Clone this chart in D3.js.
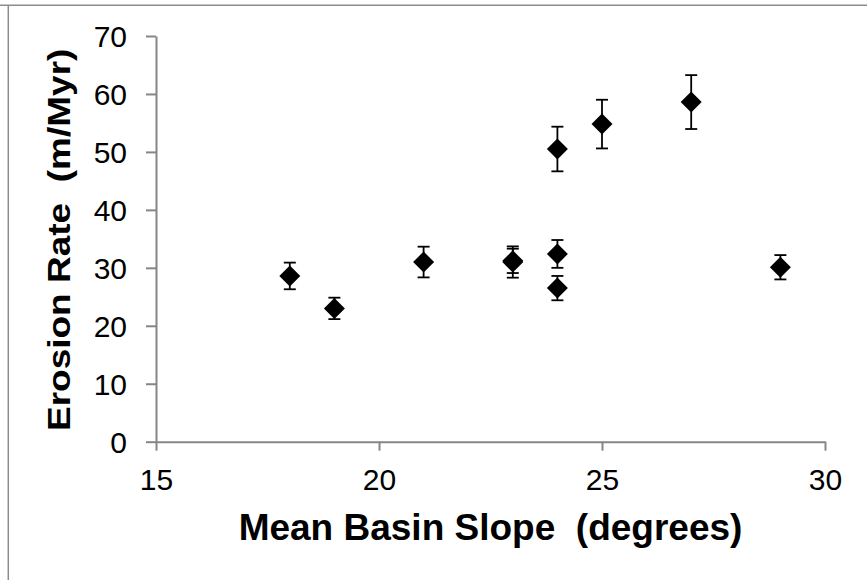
<!DOCTYPE html>
<html>
<head>
<meta charset="utf-8">
<script src="https://cdn.jsdelivr.net/npm/d3@7"></script>
<style>
  html, body { margin: 0; padding: 0; background: #fff; }
  svg { display: block; }
  text { font-family: "Liberation Sans", Arial, sans-serif; fill: #000; }
  .title { white-space: pre; }
</style>
</head>
<body>
<svg id="chart" width="867" height="580"></svg>
<script>
// Basin slope (degrees), erosion rate (m/Myr) and its 1-sigma uncertainty
const slope   = [18, 19, 21, 23, 23, 24, 24, 24, 25, 27, 29];
const erosion = [28.6, 23.0, 31.0, 31.0, 31.2, 50.5, 32.4, 26.5, 54.8, 58.6, 30.1];
const errBar  = [2.3, 1.85, 2.65, 2.7, 2.1, 3.85, 2.4, 2.1, 4.2, 4.65, 2.1];

const xTicks = [15, 20, 25, 30];
const yTicks = [0, 10, 20, 30, 40, 50, 60, 70];

const xTitle = "Mean Basin Slope  (degrees)";
const yTitle = "Erosion Rate  (m/Myr)";

const svg = d3.select("#chart");
const axisColor = "#868686";

// frame of the chart area (top and left edges)
svg.append("line").attr("x1", 0).attr("x2", 867).attr("y1", 5.3).attr("y2", 5.3)
  .attr("stroke", "#8c8c8c").attr("stroke-width", 1.5);
svg.append("line").attr("x1", 8.3).attr("x2", 8.3).attr("y1", 5.3).attr("y2", 580)
  .attr("stroke", "#8c8c8c").attr("stroke-width", 1.5);

const x = d3.scaleLinear().domain([15, 30]).range([156, 825]);
const y = d3.scaleLinear().domain([0, 70]).range([441.7, 36]);

// x axis
const gx = svg.append("g").attr("transform", `translate(0,${y(0)})`)
  .call(d3.axisBottom(x).tickValues(xTicks).tickSize(9).tickSizeOuter(0).tickPadding(0));
gx.select(".domain").attr("stroke", axisColor).attr("stroke-width", 2);
gx.selectAll(".tick line").attr("stroke", axisColor).attr("stroke-width", 2);
gx.selectAll(".tick text").attr("font-size", 30).attr("y", 48.5).attr("dy", 0)
  .attr("font-family", "Liberation Sans, Arial, sans-serif").attr("fill", "#000");

// y axis
const gy = svg.append("g").attr("transform", `translate(${x(15)},0)`)
  .call(d3.axisLeft(y).tickValues(yTicks).tickSize(10).tickSizeOuter(0).tickPadding(0));
gy.select(".domain").attr("stroke", axisColor).attr("stroke-width", 2);
gy.selectAll(".tick line").attr("stroke", axisColor).attr("stroke-width", 2);
gy.selectAll(".tick text").attr("font-size", 30).attr("x", -29).attr("dy", "0.36em")
  .attr("font-family", "Liberation Sans, Arial, sans-serif").attr("fill", "#000");

// error bars
const pts = slope.map((s, i) => ({ s, e: erosion[i], d: errBar[i] }));
const eb = svg.append("g").attr("stroke", "#000").attr("stroke-width", 1.8);
pts.forEach(p => {
  const cx = x(p.s), top = y(p.e + p.d), bot = y(p.e - p.d);
  eb.append("line").attr("x1", cx).attr("x2", cx).attr("y1", top).attr("y2", bot);
  eb.append("line").attr("x1", cx - 6).attr("x2", cx + 6).attr("y1", top).attr("y2", top);
  eb.append("line").attr("x1", cx - 6).attr("x2", cx + 6).attr("y1", bot).attr("y2", bot);
});

// diamond markers
svg.append("g").selectAll("path").data(pts).join("path")
  .attr("transform", p => `translate(${x(p.s)},${y(p.e)})`)
  .attr("d", "M0,-10.5L10.5,0L0,10.5L-10.5,0Z")
  .attr("fill", "#000");

// axis titles
svg.append("text").attr("class", "title")
  .attr("x", (x(15) + x(30)) / 2).attr("y", 540)
  .attr("text-anchor", "middle").attr("font-size", 37).attr("font-weight", "bold")
  .text(xTitle);

svg.append("text").attr("class", "title")
  .attr("transform", `translate(70,${(y(0) + y(70)) / 2 + 1}) rotate(-90) scale(1,0.83)`)
  .attr("text-anchor", "middle").attr("font-size", 37).attr("font-weight", "bold")
  .text(yTitle);
</script>
</body>
</html>
